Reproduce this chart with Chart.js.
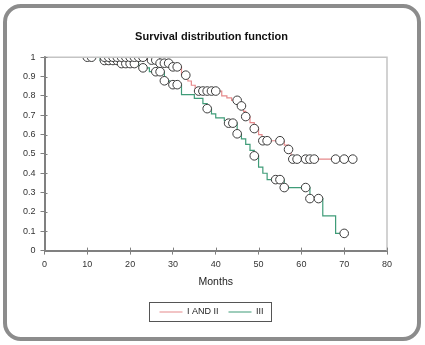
<!DOCTYPE html>
<html><head><meta charset="utf-8">
<script src="https://cdn.jsdelivr.net/npm/chart.js@4"></script>
<style>
html,body{margin:0;padding:0;background:#fff;}
#wrap{position:relative;width:425px;height:345px;}
#frame{position:absolute;left:3px;top:4px;width:410px;height:329px;border:4px solid #8c8c8c;border-radius:18px;pointer-events:none;}
canvas{position:absolute;left:0;top:0;}
</style></head><body>
<div id="wrap"><canvas id="c" width="425" height="345"></canvas><div id="frame"></div></div>
<script>
const seriesNames = ['I AND II', 'III'];
const seriesColors = ['#e6898b', '#3f9c78'];

// Kaplan-Meier step curves (time, survival)
const redTimes = [0, 24, 27, 30, 32, 33.5, 34.3, 35.2, 41.4, 42.6, 43.7, 45.5, 46.5, 47, 48, 49, 50, 50.8, 56, 57, 57.6, 72];
const redSurv  = [1, 0.985, 0.969, 0.95, 0.907, 0.877, 0.855, 0.825, 0.80, 0.79, 0.777, 0.748, 0.72, 0.693, 0.662, 0.631, 0.60, 0.568, 0.545, 0.523, 0.473, 0.473];
const greenTimes = [0, 13, 18, 22, 23, 24.5, 28, 29.3, 32, 35, 37, 38, 39, 40, 42, 42.6, 45, 46, 47, 48, 49, 50, 51, 52, 56, 62, 65, 68, 70];
const greenSurv  = [1, 0.983, 0.967, 0.955, 0.945, 0.925, 0.878, 0.858, 0.806, 0.787, 0.76, 0.734, 0.707, 0.686, 0.672, 0.659, 0.604, 0.578, 0.549, 0.518, 0.49, 0.432, 0.40, 0.367, 0.326, 0.269, 0.18, 0.089, 0.089];

// censored observations (markers)
const redCensT = [10, 11, 14, 15, 16, 17, 18, 19, 20, 21, 22, 23, 25, 26, 27, 28, 29, 30, 31, 33, 36, 37, 38, 39, 40, 45, 46, 47, 49, 51, 52, 55, 57, 58, 59, 61, 62, 63, 68, 70, 72];
const redCensS = [1, 1, 1, 1, 1, 1, 1, 1, 1, 1, 1, 1, 0.985, 0.985, 0.969, 0.969, 0.969, 0.95, 0.95, 0.907, 0.825, 0.825, 0.825, 0.825, 0.825, 0.777, 0.748, 0.693, 0.631, 0.568, 0.568, 0.568, 0.523, 0.473, 0.473, 0.473, 0.473, 0.473, 0.473, 0.473, 0.473];
const greenCensT = [14, 15, 16, 17, 18, 19, 20, 21, 23, 26, 27, 28, 30, 31, 38, 43, 44, 45, 49, 54, 55, 56, 61, 62, 64, 70];
const greenCensS = [0.983, 0.983, 0.983, 0.983, 0.967, 0.967, 0.967, 0.967, 0.945, 0.925, 0.925, 0.878, 0.858, 0.858, 0.734, 0.659, 0.659, 0.604, 0.49, 0.367, 0.367, 0.326, 0.326, 0.269, 0.269, 0.089];

const xTickLabels = ['0','10','20','30','40','50','60','70','80'];
const yTickLabels = ['0','0.1','0.2','0.3','0.4','0.5','0.6','0.7','0.8','0.9','1'];

const pts = (t, s) => t.map((v, i) => ({x: v, y: s[i]}));
const FONT = "'Liberation Sans', Arial, sans-serif";

const frameLines = {
  id: 'frameLines',
  afterLayout(chart) {
    // let the narrow y axis draw its labels into the left padding
    chart.scales.y.left = 0;
  },
  afterDraw(chart) {
    const {ctx, chartArea: a, scales} = chart;
    ctx.save();
    ctx.strokeStyle = '#c4c4c4';
    ctx.lineWidth = 1.5;
    ctx.beginPath();
    ctx.moveTo(a.left, a.top); ctx.lineTo(a.right, a.top); ctx.lineTo(a.right, a.bottom);
    ctx.stroke();
    // inner half of cross tick marks
    ctx.strokeStyle = '#808080';
    ctx.lineWidth = 1;
    ctx.beginPath();
    scales.x.ticks.forEach(t => {
      const px = Math.round(scales.x.getPixelForValue(t.value)) + 0.5;
      ctx.moveTo(px, a.bottom); ctx.lineTo(px, a.bottom - 3);
    });
    scales.y.ticks.forEach(t => {
      const py = Math.round(scales.y.getPixelForValue(t.value)) + 0.5;
      ctx.moveTo(a.left, py); ctx.lineTo(a.left + 3, py);
    });
    ctx.stroke();
    // legend box
    const boxes = chart.legend.legendHitBoxes;
    if (boxes && boxes.length) {
      let l = Infinity, r = -Infinity, tp = Infinity, b = -Infinity;
      boxes.forEach(h => { l = Math.min(l, h.left); r = Math.max(r, h.left + h.width); tp = Math.min(tp, h.top); b = Math.max(b, h.top + h.height); });
      ctx.strokeStyle = '#555';
      ctx.lineWidth = 1;
      ctx.strokeRect(Math.round(l - 10) + 0.5, Math.round(tp - 5) + 0.5, Math.round(r - l + 18), Math.round(b - tp + 10));
    }
    ctx.restore();
  }
};

new Chart(document.getElementById('c'), {
  type: 'line',
  data: {
    datasets: [
      {label: seriesNames[0], data: pts(redTimes, redSurv), borderColor: seriesColors[0], backgroundColor: seriesColors[0], borderWidth: 1.2, stepped: true, pointRadius: 0, fill: false, order: 3},
      {label: seriesNames[1], data: pts(greenTimes, greenSurv), borderColor: seriesColors[1], backgroundColor: seriesColors[1], borderWidth: 1.2, stepped: true, pointRadius: 0, fill: false, order: 2},
      {label: 'c1', data: pts(redCensT, redCensS), showLine: false, pointRadius: 4.3, pointStyle: 'circle', pointBackgroundColor: '#fff', pointBorderColor: '#3a3a3a', pointBorderWidth: 1, order: 0},
      {label: 'c2', data: pts(greenCensT, greenCensS), showLine: false, pointRadius: 4.3, pointStyle: 'circle', pointBackgroundColor: '#fff', pointBorderColor: '#3a3a3a', pointBorderWidth: 1, order: 1}
    ]
  },
  options: {
    responsive: false,
    animation: false,
    devicePixelRatio: 1,
    layout: {padding: {left: 36, right: 38, top: 30, bottom: 18.5}},
    plugins: {
      title: {display: true, text: 'Survival distribution function', color: '#111', font: {family: FONT, size: 11, weight: 'bold'}, padding: {top: 0, bottom: 14}},
      legend: {
        position: 'bottom',
        labels: {
          filter: item => item.datasetIndex < 2,
          sort: (a, b) => a.datasetIndex - b.datasetIndex,
          usePointStyle: true, pointStyle: 'line', pointStyleWidth: 23,
          color: '#222', font: {family: FONT, size: 9}, padding: 10
        }
      },
      tooltip: {enabled: false}
    },
    scales: {
      x: {
        type: 'linear', min: 0, max: 80,
        ticks: {stepSize: 10, color: '#333', font: {family: FONT, size: 9}, padding: 5, callback: (v, i) => xTickLabels[i]},
        grid: {drawOnChartArea: false, drawTicks: true, tickLength: 4, color: '#808080'},
        border: {color: '#808080', width: 2},
        title: {display: true, text: 'Months', color: '#222', font: {family: FONT, size: 10.5}, padding: {top: 0, bottom: 9.5}}
      },
      y: {
        type: 'linear', min: 0, max: 1,
        afterFit: s => { s.width = 8.5; },
        ticks: {stepSize: 0.1, color: '#333', font: {family: FONT, size: 9}, padding: 5, callback: (v, i) => yTickLabels[i]},
        grid: {drawOnChartArea: false, drawTicks: true, tickLength: 4, color: '#808080'},
        border: {color: '#808080', width: 2}
      }
    }
  },
  plugins: [frameLines]
});
</script>
</body></html>
